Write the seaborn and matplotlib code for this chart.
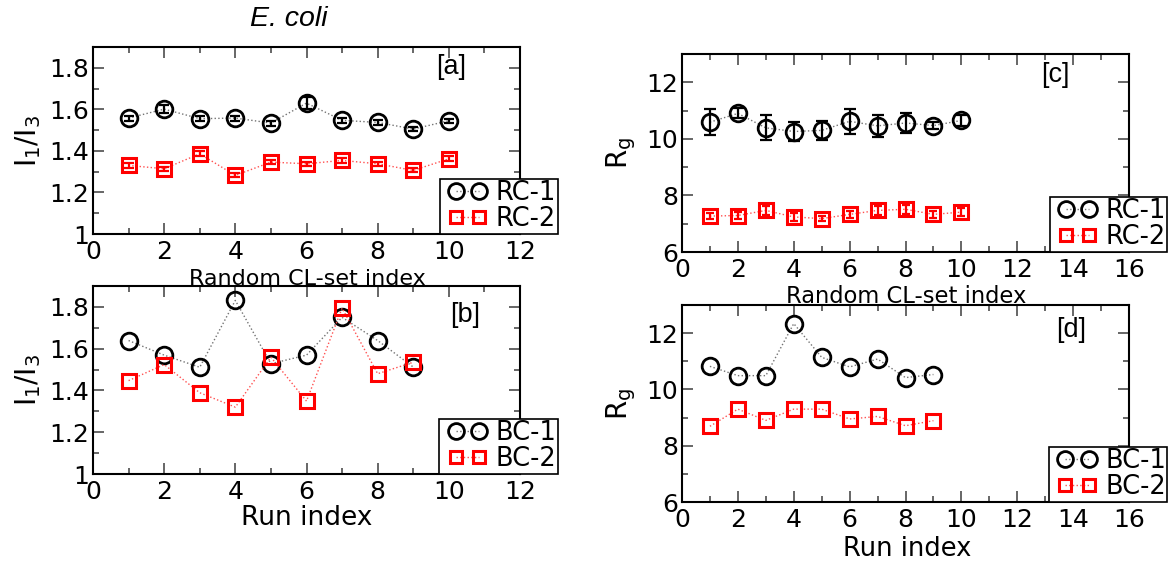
import matplotlib
matplotlib.use("Agg")
import matplotlib.pyplot as plt
import seaborn as sns
from matplotlib.ticker import MultipleLocator, FuncFormatter
from matplotlib.legend_handler import HandlerLine2D

sns.set_style("ticks")
plt.rcParams['font.family'] = ['DejaVu Sans']
plt.rcParams['mathtext.default'] = 'regular'
plt.rcParams['text.color'] = 'black'
plt.rcParams['axes.labelcolor'] = 'black'

# ---- data ----
rc_index = [1, 2, 3, 4, 5, 6, 7, 8, 9, 10]
run_index = [1, 2, 3, 4, 5, 6, 7, 8, 9]

# [a] I1/I3 for random CL-sets
rc1_i13 = [1.558, 1.601, 1.555, 1.558, 1.534, 1.630, 1.547, 1.537, 1.505, 1.545]
rc1_i13_err = [0.012, 0.020, 0.012, 0.012, 0.012, 0.030, 0.012, 0.012, 0.010, 0.010]
rc2_i13 = [1.330, 1.314, 1.386, 1.282, 1.346, 1.338, 1.354, 1.338, 1.306, 1.362]
rc2_i13_err = [0.010, 0.010, 0.012, 0.010, 0.010, 0.010, 0.010, 0.010, 0.010, 0.012]

# [b] I1/I3 for individual runs
bc1_i13 = [1.639, 1.569, 1.511, 1.831, 1.528, 1.569, 1.750, 1.639, 1.512]
bc2_i13 = [1.447, 1.524, 1.389, 1.320, 1.559, 1.349, 1.794, 1.480, 1.535]

# [c] Rg for random CL-sets
rc1_rg = [10.59, 10.90, 10.39, 10.26, 10.30, 10.62, 10.46, 10.56, 10.47, 10.65]
rc1_rg_err = [0.47, 0.18, 0.44, 0.34, 0.33, 0.45, 0.40, 0.34, 0.13, 0.20]
rc2_rg = [7.27, 7.29, 7.47, 7.24, 7.18, 7.33, 7.47, 7.51, 7.33, 7.41]
rc2_rg_err = [0.12, 0.12, 0.15, 0.15, 0.10, 0.12, 0.16, 0.16, 0.13, 0.14]

# [d] Rg for individual runs
bc1_rg = [10.82, 10.49, 10.49, 12.34, 11.14, 10.80, 11.08, 10.42, 10.53]
bc2_rg = [8.69, 9.30, 8.90, 9.30, 9.30, 8.95, 9.04, 8.71, 8.89]

W, H = 1173, 568
fig = plt.figure(figsize=(W / 100, H / 100), dpi=100)


def box(l, t, r, b):
    return [l / W, 1 - b / H, (r - l) / W, (b - t) / H]


ax_a = fig.add_axes(box(93, 47, 520, 234))
ax_b = fig.add_axes(box(93, 286, 520, 474))
ax_c = fig.add_axes(box(682, 54, 1129, 252))
ax_d = fig.add_axes(box(682, 305, 1129, 502))

fmt = FuncFormatter(lambda v, p: f"{v:g}")
ARIAL = 'Liberation Sans'


def style_axes(ax, xmax, ymin, ymax, ymajor, yminor):
    ax.set_xlim(0, xmax)
    ax.set_ylim(ymin, ymax)
    ax.xaxis.set_major_locator(MultipleLocator(2))
    ax.xaxis.set_minor_locator(MultipleLocator(1))
    ax.yaxis.set_major_locator(MultipleLocator(ymajor))
    ax.yaxis.set_minor_locator(MultipleLocator(yminor))
    ax.yaxis.set_major_formatter(fmt)
    ax.tick_params(which='both', direction='in', top=True, right=True,
                   color='0.3', width=1.2, labelcolor='black')
    ax.tick_params(which='major', length=8, labelsize=18)
    ax.tick_params(which='minor', length=4.5)
    ax.tick_params(axis='x', pad=4.5)
    ax.tick_params(axis='y', pad=2.6)
    for s in ax.spines.values():
        s.set_linewidth(1.5)
        s.set_color('black')


def series(ax, x, y, kind, err=None, capsize=3.5):
    if kind == 'black':
        sns.lineplot(x=x, y=y, ax=ax, color='0.45', linestyle=':', linewidth=1.0,
                     marker='o', markersize=12, markerfacecolor='none',
                     markeredgecolor='black', markeredgewidth=2.0, zorder=3)
        ecol = 'black'
    else:
        sns.lineplot(x=x, y=y, ax=ax, color='#ff5050', linestyle=':', linewidth=1.0,
                     marker='s', markersize=9.5, markerfacecolor='none',
                     markeredgecolor='#ff0000', markeredgewidth=2.2, zorder=3)
        ecol = '#ff0000'
    line = ax.lines[-1]
    if err is not None:
        ax.errorbar(x, y, yerr=err, fmt='none', ecolor=ecol, elinewidth=1.6,
                    capsize=capsize, capthick=1.6, zorder=4)
    return line


def legend(ax, handles, labels, anchor):
    hm = {h: HandlerLine2D(numpoints=2, marker_pad=0.57) for h in handles}
    leg = ax.legend(handles, labels, loc='lower right', bbox_to_anchor=anchor,
                    handler_map=hm, frameon=True, fancybox=False, framealpha=1,
                    edgecolor='black', fontsize=18.5, handlelength=2.05,
                    handletextpad=0.06, borderpad=0.06, labelspacing=0.0,
                    markerscale=0.95, borderaxespad=0, labelcolor='black')
    leg.get_frame().set_linewidth(1.2)
    leg.set_zorder(10)


def tag(ax, x, y, s):
    ax.text(x, y, s, transform=ax.transAxes, fontsize=19.5, family=ARIAL,
            ha='center', va='center', color='black')


# ---- [a] ----
style_axes(ax_a, 12, 1, 1.9, 0.2, 0.1)
h1 = series(ax_a, rc_index, rc1_i13, 'black', rc1_i13_err, capsize=3.4)
h2 = series(ax_a, rc_index, rc2_i13, 'red', rc2_i13_err, capsize=3.4)
legend(ax_a, [h1, h2], ['RC-1', 'RC-2'], (1.088, 0.0))
tag(ax_a, 0.839, 0.893, '[a]')
ax_a.set_ylabel(r'$I_1/I_3$', fontsize=20)
ax_a.yaxis.set_label_coords(-0.117, 0.5)
ax_a.set_xlabel('Random CL-set index', fontsize=16, va='top')
ax_a.xaxis.set_label_coords(0.502, -0.185)

# ---- [b] ----
style_axes(ax_b, 12, 1, 1.9, 0.2, 0.1)
h1 = series(ax_b, run_index, bc1_i13, 'black')
h2 = series(ax_b, run_index, bc2_i13, 'red')
legend(ax_b, [h1, h2], ['BC-1', 'BC-2'], (1.088, 0.0))
tag(ax_b, 0.871, 0.845, '[b]')
ax_b.set_ylabel(r'$I_1/I_3$', fontsize=20)
ax_b.yaxis.set_label_coords(-0.117, 0.5)
ax_b.set_xlabel('Run index', fontsize=19, va='top')
ax_b.xaxis.set_label_coords(0.5, -0.165)

# ---- [c] ----
style_axes(ax_c, 16, 6, 13, 2, 1)
h1 = series(ax_c, rc_index, rc1_rg, 'black', rc1_rg_err, capsize=4.2)
h2 = series(ax_c, rc_index, rc2_rg, 'red', rc2_rg_err, capsize=3.0)
legend(ax_c, [h1, h2], ['RC-1', 'RC-2'], (1.086, 0.0))
tag(ax_c, 0.835, 0.895, '[c]')
ax_c.set_ylabel(r'$R_g$', fontsize=20)
ax_c.yaxis.set_label_coords(-0.098, 0.5)
ax_c.set_xlabel('Random CL-set index', fontsize=16.3, va='top')
ax_c.xaxis.set_label_coords(0.502, -0.165)

# ---- [d] ----
style_axes(ax_d, 16, 6, 13, 2, 1)
h1 = series(ax_d, run_index, bc1_rg, 'black')
h2 = series(ax_d, run_index, bc2_rg, 'red')
legend(ax_d, [h1, h2], ['BC-1', 'BC-2'], (1.086, 0.0))
tag(ax_d, 0.870, 0.873, '[d]')
ax_d.set_ylabel(r'$R_g$', fontsize=20)
ax_d.yaxis.set_label_coords(-0.098, 0.5)
ax_d.set_xlabel('Run index', fontsize=18.5, va='top')
ax_d.xaxis.set_label_coords(0.503, -0.175)

fig.text(289 / W, 1 - 18.5 / H, 'E. coli', fontsize=20.5, style='italic',
         family=ARIAL, ha='center', va='center', color='black')

fig.savefig('out.png', dpi=100, facecolor='white')
